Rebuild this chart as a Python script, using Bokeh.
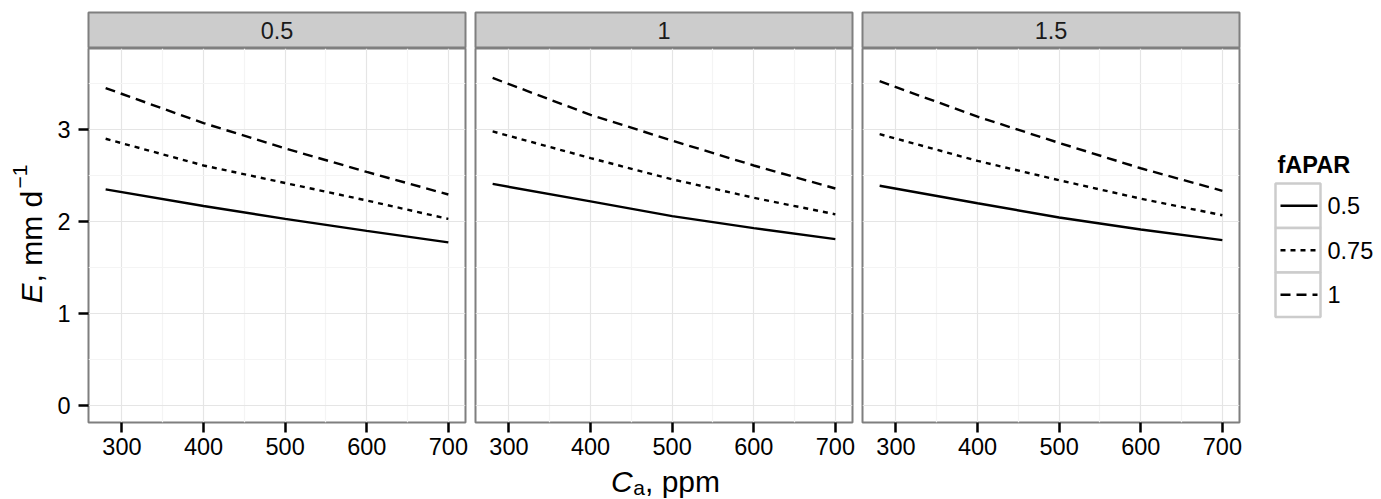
import math
from bokeh.plotting import figure
from bokeh.layouts import row, column
from bokeh.models import Range1d, FixedTicker
from bokeh.core.properties import value
from bokeh.embed import file_html
from bokeh.resources import INLINE

# ---------------- data ----------------
ca_ppm = [280, 400, 500, 600, 700]
panel_labels = ["0.5", "1", "1.5"]
fapar_levels = ["0.5", "0.75", "1"]

# panel "0.5"
E_p05_f05 = [2.35, 2.17, 2.03, 1.90, 1.775]
E_p05_f075 = [2.90, 2.61, 2.42, 2.23, 2.03]
E_p05_f1 = [3.45, 3.07, 2.795, 2.54, 2.295]
# panel "1"
E_p1_f05 = [2.41, 2.22, 2.06, 1.93, 1.81]
E_p1_f075 = [2.98, 2.69, 2.46, 2.26, 2.08]
E_p1_f1 = [3.56, 3.16, 2.88, 2.61, 2.36]
# panel "1.5"
E_p15_f05 = [2.39, 2.20, 2.045, 1.915, 1.80]
E_p15_f075 = [2.95, 2.66, 2.45, 2.25, 2.07]
E_p15_f1 = [3.525, 3.14, 2.855, 2.58, 2.335]

x_ticks = [300, 400, 500, 600, 700]
x_minor = [350, 450, 550, 650]
y_ticks = [0, 1, 2, 3]
y_minor = [0.5, 1.5, 2.5, 3.5]

series = [
    [E_p05_f05, E_p05_f075, E_p05_f1],
    [E_p1_f05, E_p1_f075, E_p1_f1],
    [E_p15_f05, E_p15_f075, E_p15_f1],
]

# ---------------- styles ----------------
FONT = "Liberation Sans"
SMALL = "23.5px"
BIG = "30px"
SUB = "21px"
dash_styles = ["solid", "5 5", "10 6"]
LINE_W = 2.4
BORDER = "#7f7f7f"
STRIP_BG = "#cccccc"
MAJOR_GRID = "#e5e5e5"
MINOR_GRID = "#f4f4f4"

H = 499
FW, FH = 377, 374
STRIP_H = 36
TOP = 12
MID = 0.358  # distance (in em) from baseline to the "middle" anchor


def blank(w, h):
    f = figure(width=w, height=h, x_range=Range1d(0, w), y_range=Range1d(0, h),
               x_axis_location=None, y_axis_location=None, title=None,
               output_backend="svg", toolbar_location=None,
               min_border_left=0, min_border_right=0, min_border_top=0, min_border_bottom=0)
    f.grid.visible = False
    f.outline_line_color = None
    f.background_fill_color = "white"
    f.border_fill_color = "white"
    return f


def make_column(i):
    first = i == 0
    mid = i == 1
    left = 40 if first else 5
    right = 5
    w = left + FW + right

    # strip
    s = figure(width=w, height=TOP + STRIP_H, x_range=Range1d(0, 1), y_range=Range1d(0, 1),
               x_axis_location=None, y_axis_location=None, title=None,
               output_backend="svg", toolbar_location=None,
               min_border_left=left, min_border_right=right, min_border_top=TOP, min_border_bottom=0)
    s.grid.visible = False
    s.background_fill_color = STRIP_BG
    s.border_fill_color = "white"
    s.outline_line_color = BORDER
    s.outline_line_width = 2
    s.text(x=[0.5], y=[0.5], text=[panel_labels[i]], text_align="center", text_baseline="middle",
           text_font=value(FONT), text_font_size=SMALL, text_color="#1a1a1a")

    bottom = 42 if mid else H - TOP - STRIP_H - FH
    p = figure(width=w, height=FH + bottom, x_range=Range1d(259, 721), y_range=Range1d(-0.18, 3.88),
               y_axis_location="left" if first else None, title=None,
               output_backend="svg", toolbar_location=None,
               min_border_left=left, min_border_right=right, min_border_top=0, min_border_bottom=bottom)
    p.background_fill_color = "white"
    p.border_fill_color = "white"
    p.outline_line_color = BORDER
    p.outline_line_width = 2

    xt = FixedTicker(ticks=x_ticks, minor_ticks=x_minor)
    yt = FixedTicker(ticks=y_ticks, minor_ticks=y_minor)
    p.xaxis.ticker = xt
    p.xgrid.ticker = xt
    p.ygrid.ticker = yt
    if first:
        p.yaxis.ticker = yt
    p.grid.grid_line_color = MAJOR_GRID
    p.grid.grid_line_width = 1.2
    p.grid.minor_grid_line_color = MINOR_GRID
    p.grid.minor_grid_line_width = 1.2

    for ax in p.axis:
        ax.axis_line_color = None
        ax.major_tick_line_color = "black"
        ax.major_tick_line_width = 2.5
        ax.major_tick_out = 10
        ax.major_tick_in = 0
        ax.minor_tick_out = 0
        ax.minor_tick_in = 0
        ax.minor_tick_line_color = None
        ax.major_label_text_font = FONT
        ax.major_label_text_font_size = SMALL
        ax.major_label_text_color = "black"
    p.xaxis.major_label_standoff = 5
    if first:
        p.yaxis.major_label_standoff = 8

    for k, vals in enumerate(series[i]):
        p.line(ca_ppm, vals, line_color="black", line_width=LINE_W, line_dash=dash_styles[k])

    kids = [s, p]
    if mid:
        xh = H - TOP - STRIP_H - FH - bottom
        xl = blank(w, xh)
        x0 = 470
        base = 491.5
        sub_base = 494.5
        # x-axis title: italic C, subscript a, ", ppm"
        xl.text(x=[609 - x0], y=[H - (base - MID * 30)], text=["C"], text_align="left",
                text_baseline="middle", text_font=value(FONT), text_font_size=BIG,
                text_font_style="italic", text_color="black")
        xl.text(x=[632 - x0], y=[H - (sub_base - MID * 21)], text=["a"], text_align="left",
                text_baseline="middle", text_font=value(FONT), text_font_size=SUB, text_color="black")
        xl.text(x=[644 - x0], y=[H - (base - MID * 30)], text=[", ppm"], text_align="left",
                text_baseline="middle", text_font=value(FONT), text_font_size=BIG, text_color="black")
        kids.append(xl)
    return column(*kids)


# y-axis title (rotated, reads bottom to top)
ylab = blank(48, H)
ang = math.pi / 2
ybase = 42
ylab.text(x=[ybase - MID * 30], y=[H - 303], text=["E"], angle=ang, text_align="left",
          text_baseline="middle", text_font=value(FONT), text_font_size=BIG,
          text_font_style="italic", text_color="black")
ylab.text(x=[ybase - MID * 30], y=[H - 282], text=[", mm d"], angle=ang, text_align="left",
          text_baseline="middle", text_font=value(FONT), text_font_size=BIG, text_color="black")
ylab.text(x=[27 - MID * 21], y=[H - 188], text=["\u22121"], angle=ang, text_align="left",
          text_baseline="middle", text_font=value(FONT), text_font_size=SUB, text_color="black")

# legend
LX0 = 1244
leg = blank(1381 - LX0, H)
leg.text(x=[1277 - LX0], y=[H - (173 - MID * 23.5)], text=["fAPAR"], text_align="left",
         text_baseline="middle", text_font=value(FONT), text_font_size=SMALL,
         text_font_style="bold", text_color="black")
key_top = 183
key_h = 44.5
for k, lab_txt in enumerate(fapar_levels):
    t = key_top + k * key_h
    b = t + key_h
    c = (t + b) / 2
    leg.quad(left=[1275 - LX0], right=[1320 - LX0], top=[H - t], bottom=[H - b],
             fill_color="white", line_color="#cccccc", line_width=2.5)
    leg.line([1280 - LX0, 1317 - LX0], [H - c, H - c], line_color="black", line_width=LINE_W,
             line_dash=dash_styles[k])
    leg.text(x=[1327 - LX0], y=[H - c], text=[lab_txt], text_align="left", text_baseline="middle",
             text_font=value(FONT), text_font_size=SMALL, text_color="black")

layout = row(ylab, make_column(0), make_column(1), make_column(2), leg)

open("out.html", "w").write(file_html(layout, INLINE))
